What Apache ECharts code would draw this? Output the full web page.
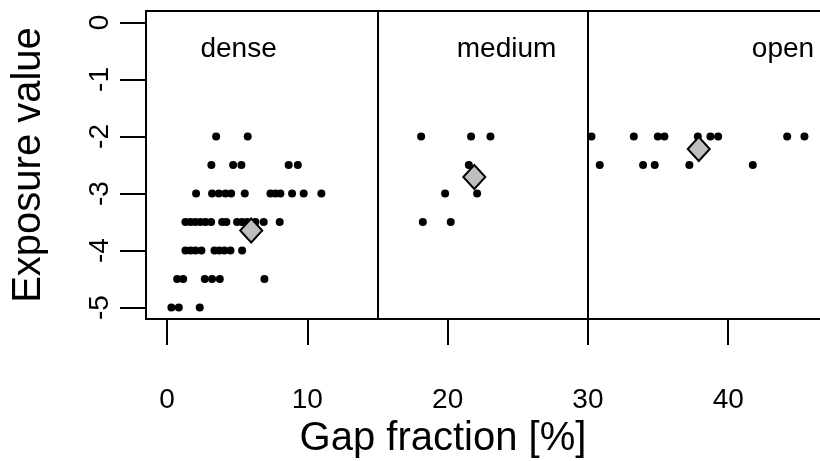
<!DOCTYPE html>
<html>
<head>
<meta charset="utf-8">
<script src="https://cdn.jsdelivr.net/npm/echarts@6/dist/echarts.min.js"></script>
<style>
html,body{margin:0;padding:0;background:#fff;}
#c{width:820px;height:461px;}
</style>
</head>
<body>
<div id="c"></div>
<script>
// ---- data (gap fraction %, exposure value) ----
var denseX = [3.5, 5.75,
  3.16, 4.71, 5.30, 8.67, 9.32,
  2.07, 3.21, 3.69, 4.16, 4.57, 5.54, 7.37, 7.73, 8.08, 8.91, 9.74, 11.0,
  1.31, 1.67, 2.02, 2.38, 2.74, 3.14, 3.93, 4.23, 4.99, 5.35, 5.71, 6.30, 6.89, 8.03,
  1.31, 1.67, 2.02, 2.45, 3.38, 3.73, 4.09, 4.52, 5.35,
  0.72, 1.15, 2.69, 3.21, 3.76, 6.94,
  0.31, 0.84, 2.33];
var denseY = [-2, -2,
  -2.5, -2.5, -2.5, -2.5, -2.5,
  -3, -3, -3, -3, -3, -3, -3, -3, -3, -3, -3, -3,
  -3.5, -3.5, -3.5, -3.5, -3.5, -3.5, -3.5, -3.5, -3.5, -3.5, -3.5, -3.5, -3.5, -3.5,
  -4, -4, -4, -4, -4, -4, -4, -4, -4,
  -4.5, -4.5, -4.5, -4.5, -4.5, -4.5,
  -5, -5, -5];
var mediumX = [18.11, 21.67, 23.05, 21.51, 19.82, 22.10, 18.23, 20.22];
var mediumY = [-2, -2, -2, -2.5, -3, -3, -3.5, -3.5];
var openX = [30.25, 33.27, 34.98, 35.45, 37.83, 38.73, 39.28, 44.2, 45.43,
  30.84, 33.93, 34.76, 37.23, 41.75];
var openY = [-2, -2, -2, -2, -2, -2, -2, -2, -2,
  -2.5, -2.5, -2.5, -2.5, -2.5];
var meanX = [6.0, 21.9, 37.9];
var meanY = [-3.65, -2.71, -2.22];
var groupNames = ['dense', 'medium', 'open'];
var groupLabelX = [5.1, 24.2, 43.9];
var groupLabelY = [-0.47, -0.47, -0.47];
var groupBreaks = [15, 30];
var xTicks = [0, 10, 20, 30, 40];
var yTicks = [-5, -4, -3, -2, -1, 0];
var xRange = [-1.5, 46.54];
var yRange = [-5.2, 0.2];

function pairs(xs, ys) { return xs.map(function (x, i) { return [x, ys[i]]; }); }

var FONT = 'Liberation Sans, Arial, sans-serif';
var chart = echarts.init(document.getElementById('c'), null, {renderer: 'canvas'});
var dotStyle = {color: '#000', opacity: 1};
var lineStyle = {color: '#000', width: 2};
chart.setOption({
  backgroundColor: '#fff',
  animation: false,
  grid: {left: 146, top: 11, right: 0, height: 308, show: false,
    containLabel: false, outerBoundsMode: 'none'},
  xAxis: [{
    type: 'value', min: xRange[0], max: xRange[1], position: 'bottom',
    name: 'Gap fraction [%]', nameLocation: 'middle', nameGap: 94,
    nameTextStyle: {fontFamily: FONT, fontSize: 40, color: '#000', padding: [0, 80, 0, 0]},
    axisLine: {show: true, onZero: false, lineStyle: lineStyle},
    splitLine: {show: false},
    axisTick: {show: true, customValues: xTicks, length: 26, inside: false, lineStyle: lineStyle},
    axisLabel: {show: true, customValues: xTicks, margin: 67,
      fontFamily: FONT, fontSize: 28, color: '#000'}
  }, {
    type: 'value', min: xRange[0], max: xRange[1], position: 'top',
    axisLine: {show: true, onZero: false, lineStyle: lineStyle},
    splitLine: {show: false}, axisTick: {show: false}, axisLabel: {show: false}
  }],
  yAxis: {
    type: 'value', min: yRange[0], max: yRange[1],
    name: 'Exposure value', nameLocation: 'middle', nameGap: 97, nameRotate: 90,
    nameTextStyle: {fontFamily: FONT, fontSize: 40, color: '#000'},
    axisLine: {show: true, onZero: false, lineStyle: lineStyle},
    splitLine: {show: false},
    axisTick: {show: true, customValues: yTicks, length: 26, inside: false, lineStyle: lineStyle},
    axisLabel: {show: true, customValues: yTicks, margin: 32, rotate: 90,
      fontFamily: FONT, fontSize: 28, color: '#000'}
  },
  series: [
    {type: 'scatter', name: 'dense', data: pairs(denseX, denseY), symbolSize: 8,
      itemStyle: dotStyle, z: 3,
      markLine: {silent: true, symbol: ['none', 'none'], label: {show: false},
        lineStyle: {color: '#000', width: 2, type: 'solid', opacity: 1},
        data: groupBreaks.map(function (b) { return {xAxis: b}; })}},
    {type: 'scatter', name: 'medium', data: pairs(mediumX, mediumY), symbolSize: 8,
      itemStyle: dotStyle, z: 3},
    {type: 'scatter', name: 'open', data: pairs(openX, openY), symbolSize: 8,
      itemStyle: dotStyle, z: 3},
    {type: 'scatter', name: 'mean', data: pairs(meanX, meanY), symbol: 'diamond',
      symbolSize: [22, 24], z: 5,
      itemStyle: {color: '#bebebe', borderColor: '#000', borderWidth: 2, opacity: 1}},
    {type: 'scatter', name: 'labels', symbolSize: 0, z: 4, silent: true,
      itemStyle: {opacity: 1},
      data: groupNames.map(function (n, i) { return {name: n, value: [groupLabelX[i], groupLabelY[i]]}; }),
      label: {show: true, position: 'inside', formatter: '{b}', opacity: 1,
        fontFamily: FONT, fontSize: 28, color: '#000'}}
  ]
});
</script>
</body>
</html>
